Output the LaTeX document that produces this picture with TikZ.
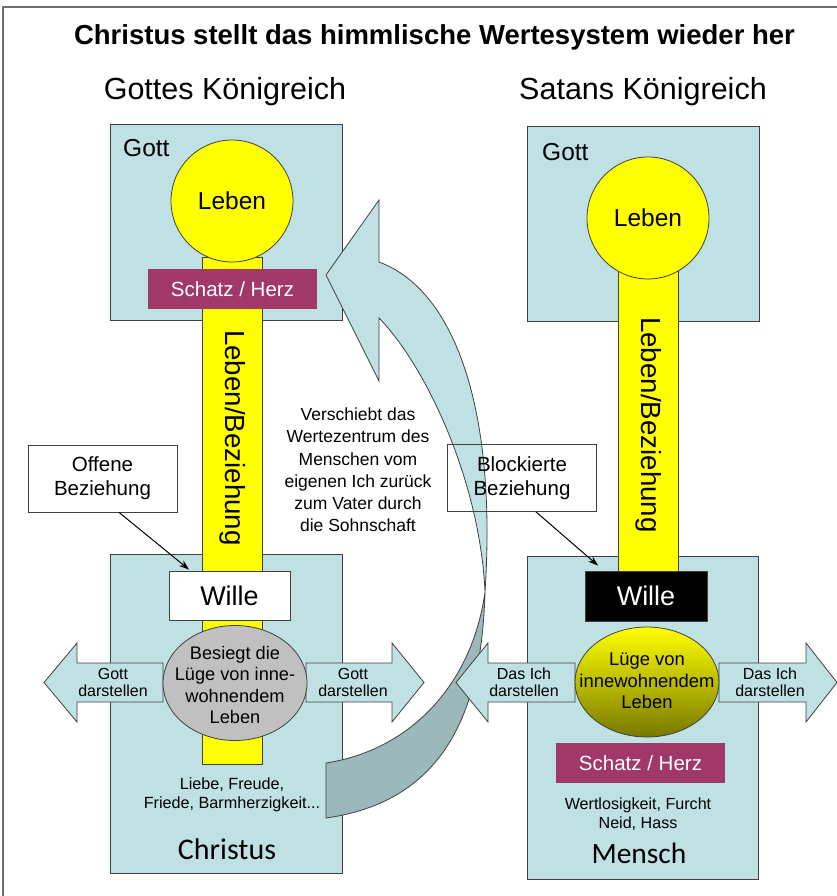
\documentclass[tikz,border=0pt]{standalone}
\usepackage{fontspec}
\setmainfont{Liberation Sans}
\newfontfamily\calibfont{Carlito}
\usetikzlibrary{shapes.geometric,arrows.meta}

\definecolor{panelfill}{RGB}{191,225,228}
\definecolor{underfill}{RGB}{155,185,187}
\definecolor{heartfill}{RGB}{160,57,104}
\definecolor{edgegray}{RGB}{64,64,64}
\definecolor{lifeyellow}{RGB}{255,255,0}
\definecolor{olivedark}{RGB}{120,120,0}
\definecolor{liegray}{RGB}{192,192,192}
\definecolor{framegray}{RGB}{110,110,110}

\newcommand{\fsz}[2]{\fontsize{#1pt}{#2pt}\selectfont}

\begin{document}
\begin{tikzpicture}[x=1pt,y=-1pt,
  panel/.style={draw=edgegray, fill=panelfill, line width=0.9pt, inner sep=0pt},
  lifebar/.style={draw=edgegray, fill=lifeyellow, line width=0.8pt, inner sep=0pt, minimum width=60pt},
  lifeball/.style={circle, draw=edgegray, fill=lifeyellow, line width=0.8pt, inner sep=0pt, minimum size=122pt},
  heartbox/.style={fill=heartfill, text=white, inner sep=0pt, minimum width=169pt, minimum height=40pt, font=\fsz{20.5}{24}},
  willbox/.style={draw=edgegray, line width=0.9pt, inner sep=0pt, minimum height=49pt, font=\fsz{27}{32}},
  lieshape/.style={ellipse, draw=edgegray, line width=0.8pt, inner sep=0pt, minimum width=144pt},
  sidearrow/.style={draw=edgegray, fill=panelfill, line width=0.8pt, line join=miter},
  label/.style={inner sep=0pt, align=center},
  callout/.style={draw=edgegray, line width=0.8pt, inner sep=0pt, minimum width=149pt, minimum height=67pt, align=center, font=\fsz{20.5}{24}},
  pointer/.style={line width=1pt, -{Stealth[length=10pt,width=7pt]}},
  upperband/.style={draw=edgegray, fill=panelfill, line width=0.8pt, line join=miter},
  underband/.style={draw=edgegray, fill=underfill, line width=0.8pt}
]
\useasboundingbox (0,0) rectangle (837,896);

% page frame
\draw[framegray, line width=1.5pt] (3,896) -- (3,7) -- (837,7);

% headings
\node[label, font=\bfseries\fsz{27.5}{32}] (title) at (434.5,37) {Christus stellt das himmlische Wertesystem wieder her};
\node[label, font=\fsz{30.5}{36}] (headL) at (225,92) {Gottes Königreich};
\node[label, font=\fsz{30.5}{36}] (headR) at (643,92) {Satans Königreich};

% upper panels
\node[panel, minimum width=232pt, minimum height=196pt] (godL) at (226,222) {};
\node[panel, minimum width=232pt, minimum height=195pt] (godR) at (643,223.5) {};
\node[label, anchor=west, font=\fsz{24.5}{28}] (godLtxt) at (123,148) {Gott};
\node[label, anchor=west, font=\fsz{24.5}{28}] (godRtxt) at (542,152) {Gott};

% lower panels
\node[panel, minimum width=232pt, minimum height=319pt] (christ) at (226,713.5) {};
\node[panel, minimum width=231pt, minimum height=323pt] (human) at (642.5,717.5) {};

% life bars
\node[lifebar, minimum height=507pt] (barL) at (232,510.5) {};
\node[lifebar, minimum height=305pt] (barR) at (648,422.5) {};
\node[label, rotate=-90, font=\fsz{27.7}{32}] (barLtxt) at (233,438) {Leben/Beziehung};
\node[label, rotate=-90, font=\fsz{27.7}{32}] (barRtxt) at (649,425) {Leben/Beziehung};

% life circles
\node[lifeball, font=\fsz{24.5}{28}] (lifeL) at (232,201) {Leben};
\node[lifeball, font=\fsz{24.5}{28}] (lifeR) at (648,218) {Leben};

% treasure boxes
\node[heartbox] (heartL) at (232.5,289) {Schatz / Herz};
\node[heartbox] (heartR) at (640.5,763) {Schatz / Herz};

% will boxes
\node[willbox, fill=white, minimum width=121pt] (willL) at (229.5,595.5) {Wille};
\node[willbox, fill=black, text=white, minimum width=122pt, minimum height=50pt] (willR) at (646,596) {Wille};

% sideward arrows, Christus side
\draw[sidearrow] (163,663) -- (77,663) -- (77,643) -- (44,682.5) -- (77,722) -- (77,702) -- (163,702) -- cycle;
\draw[sidearrow] (306,663) -- (392,663) -- (392,643) -- (424,682.5) -- (392,722) -- (392,702) -- (306,702) -- cycle;
\node[label, font=\fsz{16}{17}] (showGodL) at (113,682.5) {Gott\\darstellen};
\node[label, font=\fsz{16}{17}] (showGodR) at (353,682.5) {Gott\\darstellen};

% lie ellipse, Christus side
\node[lieshape, fill=liegray, minimum height=115pt] (lieL) at (235,683) {};
\node[label, font=\fsz{18.2}{21.5}] (lieLtxt) at (235,685) {Besiegt die\\Lüge von inne-\\wohnendem\\Leben};

% fruits and name, Christus side
\node[label, font=\fsz{16.2}{19}] (fruits) at (232,795) {Liebe, Freude,\\Friede, Barmherzigkeit...};
\node[label, font=\calibfont\fsz{30}{34}] (christName) at (227,849) {Christus};

% curved arrow: shifting the centre of values
\coordinate (cross) at (485,592);
\coordinate (tailUp) at (326,763);
\coordinate (tailLow) at (326,818);
\coordinate (outerTop) at (379,262);
\coordinate (innerTop) at (379,318);
\coordinate (wingUp) at (379,200);
\coordinate (wingLow) at (379,381);
\coordinate (headTip) at (326,275);
\filldraw[underband] (tailUp) .. controls (410,750) and (472,685) .. (cross)
  .. controls (482,695) and (455,800) .. (tailLow) -- cycle;
\filldraw[upperband] (cross) .. controls (497,410) and (455,290) .. (outerTop)
  -- (wingUp) -- (headTip) -- (wingLow) -- (innerTop)
  .. controls (425,365) and (480,480) .. (cross) -- cycle;
\node[label, font=\fsz{17.5}{22.2}] (shiftTxt) at (358,470) {Verschiebt das\\Wertezentrum des\\Menschen vom\\eigenen Ich zurück\\zum Vater durch\\die Sohnschaft};

% sideward arrows, Mensch side
\draw[sidearrow] (575,663) -- (488,663) -- (488,643) -- (456,682.5) -- (488,722) -- (488,702) -- (575,702) -- cycle;
\draw[sidearrow] (719,663) -- (806,663) -- (806,643) -- (837,682.5) -- (806,722) -- (806,702) -- (719,702) -- cycle;
\node[label, font=\fsz{16}{17}] (showSelfL) at (524,682.5) {Das Ich\\darstellen};
\node[label, font=\fsz{16}{17}] (showSelfR) at (770,682.5) {Das Ich\\darstellen};

% lie ellipse, Mensch side
\node[lieshape, top color=lifeyellow, middle color={rgb,255:red,238;green,238;blue,0}, bottom color=olivedark, minimum height=110pt] (lieR) at (647,682) {};
\node[label, font=\fsz{18.4}{21.6}] (lieRtxt) at (647,681) {Lüge von\\innewohnendem\\Leben};

% fruits and name, Mensch side
\node[label, font=\fsz{16.1}{19}] (fears) at (638,814) {Wertlosigkeit, Furcht\\Neid, Hass};
\node[label, font=\calibfont\fsz{29.5}{34}] (humanName) at (639,853) {Mensch};

% relationship callouts
\node[callout, fill=white] (openRel) at (102.5,478.5) {Offene\\Beziehung};
\node[callout] (blockRel) at (522,478) {Blockierte\\Beziehung};
\draw[pointer] ([xshift=16.5pt]openRel.south) -- ([xshift=-40.5pt,yshift=1pt]willL.north);
\draw[pointer] ([xshift=14pt]blockRel.south) -- ([xshift=-48pt,yshift=5pt]willR.north);

\end{tikzpicture}
\end{document}
